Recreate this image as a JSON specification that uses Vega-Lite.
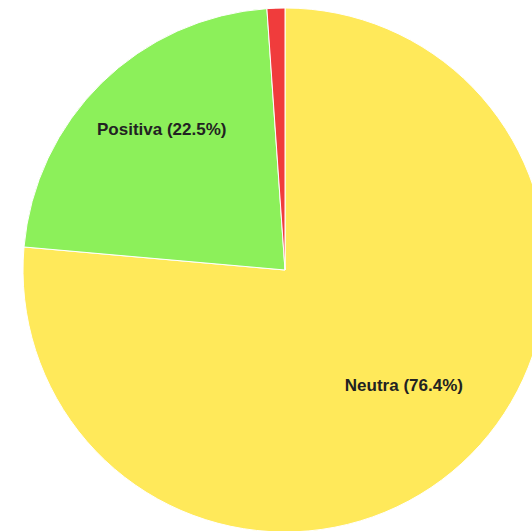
{
  "$schema": "https://vega.github.io/schema/vega-lite/v6.json",
  "width": 494,
  "height": 522,
  "autosize": {"type": "none"},
  "padding": {"left": 38, "top": 9, "right": 0, "bottom": 0},
  "background": "white",
  "view": {"stroke": null},
  "data": {
    "values": [
      {"sentimento": "Neutra", "pct": 76.4},
      {"sentimento": "Positiva", "pct": 22.5},
      {"sentimento": "Negativa", "pct": 1.1}
    ]
  },
  "transform": [
    {"calculate": "datum.sentimento + ' (' + format(datum.pct, '.1f') + '%)'", "as": "label"}
  ],
  "encoding": {
    "theta": {"field": "pct", "type": "quantitative", "stack": true},
    "order": {"field": "pct", "type": "quantitative", "sort": "descending"}
  },
  "layer": [
    {
      "mark": {"type": "arc", "outerRadius": 262, "stroke": "white", "strokeWidth": 1},
      "encoding": {
        "color": {
          "field": "sentimento",
          "type": "nominal",
          "scale": {"domain": ["Neutra", "Positiva", "Negativa"], "range": ["#FFE95A", "#8CF05A", "#F03C3C"]},
          "legend": null
        }
      }
    },
    {
      "transform": [{"filter": "datum.pct > 5"}],
      "mark": {"type": "text", "radius": 176, "dy": -14, "font": "Liberation Sans", "fontWeight": "bold", "fontSize": 17, "color": "#222222"},
      "encoding": {
        "text": {"field": "label"}
      }
    }
  ]
}
